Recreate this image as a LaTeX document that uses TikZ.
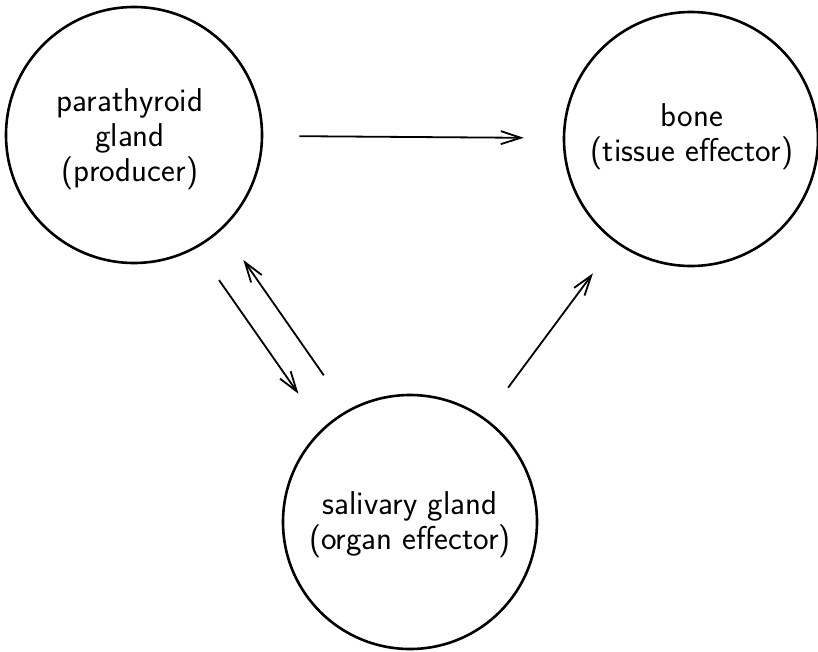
\documentclass[tikz,border=0pt]{standalone}
\usepackage{fontspec}
\usetikzlibrary{arrows.meta}
\begin{document}
\begin{tikzpicture}[x=1pt,y=-1pt,
  organ/.style={circle,draw,line width=2.6pt,inner sep=0pt},
  lbl/.style={align=center,font=\sffamily\fontsize{33}{35}\selectfont,inner sep=0pt},
  arr/.style={line width=1.8pt,-{Straight Barb[length=20pt,width=13pt,line width=1.8pt]}}]
\useasboundingbox (0,0) rectangle (818,651);
\node[organ,minimum size=256pt] (L) at (134,135) {};
\node[organ,minimum size=254pt] (R) at (691,139) {};
\node[organ,minimum size=254pt] (B) at (410,522) {};
\node[lbl] (Ltxt) at (130,139) {parathyroid\\gland\\(producer)};
\node[lbl] (Rtxt) at (692,137) {bone\\(tissue effector)};
\node[lbl] (Btxt) at (410,525) {salivary gland\\(organ effector)};
\draw[arr,shorten <=36pt,shorten >=39pt] (L) -- (R);
\draw[arr,shorten <=39pt,shorten >=42pt] (L.-61.2) -- (B.133.2);
\draw[arr,shorten <=42pt,shorten >=37pt] (B.119.8) -- (L.-47.1);
\draw[arr,shorten <=38pt,shorten >=38pt] (B.54.5) -- (R.234.9);
\end{tikzpicture}
\end{document}
